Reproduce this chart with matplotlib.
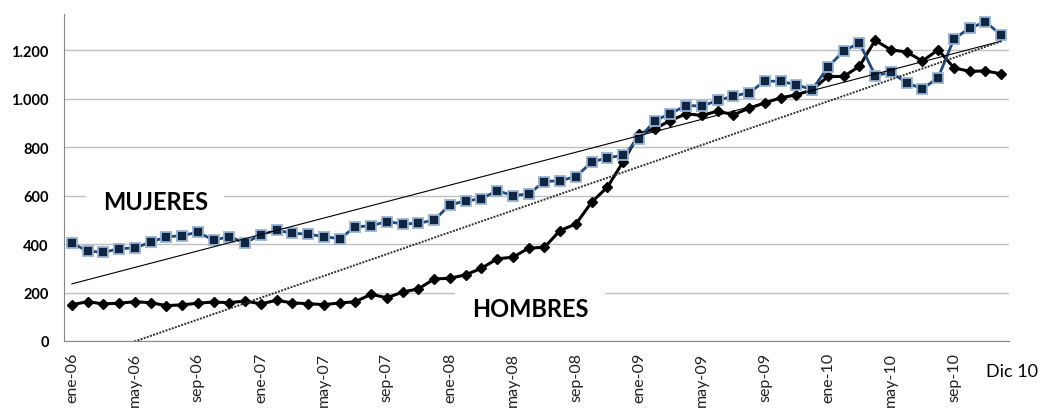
import numpy as np
import matplotlib
matplotlib.use("Agg")
import matplotlib.pyplot as plt
from matplotlib.ticker import FuncFormatter

# monthly values, ene-06 .. dic-10
mujeres = [404, 371, 366, 381, 384, 408, 430, 435, 449, 416, 431, 404,
           439, 457, 445, 441, 431, 422, 471, 476, 493, 483, 486, 499,
           562, 578, 587, 621, 600, 607, 658, 662, 679, 738, 757, 766,
           835, 909, 939, 972, 970, 993, 1011, 1025, 1073, 1072, 1058, 1037,
           1131, 1197, 1231, 1096, 1109, 1066, 1041, 1087, 1247, 1292, 1317, 1264]
hombres = [150, 162, 153, 156, 162, 158, 146, 149, 156, 161, 158, 165,
           153, 168, 157, 154, 150, 157, 162, 193, 178, 202, 215, 256,
           259, 273, 300, 339, 346, 383, 387, 456, 483, 573, 635, 740,
           855, 876, 910, 938, 931, 949, 934, 961, 983, 1004, 1016, 1037,
           1092, 1092, 1134, 1241, 1202, 1193, 1156, 1202, 1128, 1113, 1115, 1103]
tick_labels = ["ene-06", "may-06", "sep-06", "ene-07", "may-07", "sep-07",
               "ene-08", "may-08", "sep-08", "ene-09", "may-09", "sep-09",
               "ene-10", "may-10", "sep-10"]
y_ticks = [0, 200, 400, 600, 800, 1000, 1200]

plt.rcParams["font.family"] = ["Lato", "DejaVu Sans"]

x = np.arange(len(mujeres))

fig = plt.figure(figsize=(10.41, 4.14), dpi=100)
ax = fig.add_axes([0.0615, 0.174, 0.9078, 0.7898])

ax.plot(x, hombres, color="black", lw=2.2, marker="D", ms=5.5,
        mfc="black", mec="black", zorder=3)
ax.plot(x, mujeres, color="#1F497D", lw=2.0, marker="s", ms=7,
        mfc="#10253F", mec="#95B3D7", mew=1.3, zorder=4)

# linear trend lines
pm = np.polyfit(x, mujeres, 1)
ph = np.polyfit(x, hombres, 1)
ax.plot(x, np.polyval(pm, x), color="black", lw=0.8, zorder=5)
ax.plot(x, np.polyval(ph, x), color="#303030", lw=1.4,
        linestyle=(0, (1, 0.7)), zorder=5)

ax.set_xlim(-0.5, len(mujeres) - 0.5)
ax.set_ylim(0, 1350)
ax.set_yticks(y_ticks)
ax.yaxis.set_major_formatter(FuncFormatter(lambda v, p: f"{int(v):,}".replace(",", ".")))
ax.set_xticks(x[::4])
ax.set_xticklabels(tick_labels, rotation=90, fontsize=11.5, va="top",
                   color="#222222")
for lbl in ax.get_yticklabels():
    lbl.set_fontweight("bold")
    lbl.set_fontsize(10.5)

ax.grid(axis="y", color="#BFBFBF", lw=1)
ax.set_axisbelow(True)
ax.tick_params(length=0)
ax.tick_params(axis="y", pad=11)
ax.tick_params(axis="x", pad=8)
for s in ["top", "right"]:
    ax.spines[s].set_visible(False)
for s in ["left", "bottom"]:
    ax.spines[s].set_color("#868686")

ax.text(5.3, 574, "MUJERES", fontsize=17, fontweight="bold", ha="center",
        va="center", zorder=2,
        bbox=dict(boxstyle="square,pad=0.7", fc="white", ec="none"))
ax.text(29.1, 132, "HOMBRES", fontsize=17, fontweight="bold", ha="center",
        va="center", zorder=2,
        bbox=dict(boxstyle="square,pad=0.7", fc="white", ec="none"))

fig.text(1012 / 1041, 0.1014, "Dic 10", fontsize=13, ha="center", va="center")

fig.savefig("out.png", dpi=100)
